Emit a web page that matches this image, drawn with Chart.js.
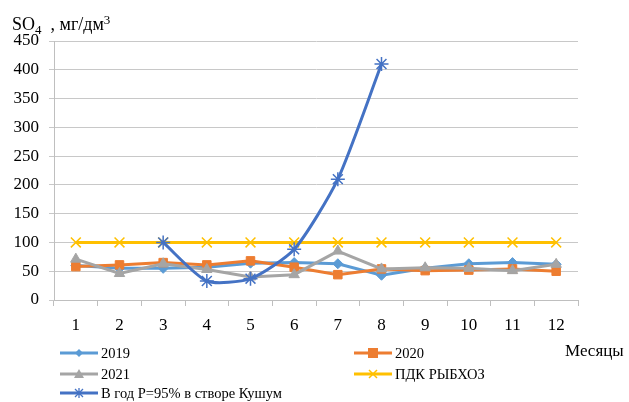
<!DOCTYPE html>
<html>
<head>
<meta charset="utf-8">
<script src="https://cdn.jsdelivr.net/npm/chart.js@4"></script>
<style>
  html, body { margin: 0; padding: 0; background: #fff; }
  #wrap { position: relative; width: 629px; height: 402px; font-family: "Liberation Serif", "Times New Roman", serif; color: #000; }
  canvas { position: absolute; left: 0; top: 0; }
  .txt { position: absolute; white-space: nowrap; }
  #ytitle { left: 12px; top: 10px; font-size: 18px; line-height: 20px; }
  #ytitle sub { font-size: 13px; vertical-align: -4px; }
  #ytitle sup { font-size: 13px; vertical-align: 6px; }
  #xtitle { left: 565px; top: 341px; font-size: 17px; }
  .leg { position: absolute; display: flex; align-items: center; font-size: 14.5px; height: 18px; }
  .leg svg { margin-right: 3px; }
</style>
</head>
<body>
<div id="wrap">
  <canvas id="c" width="629" height="402"></canvas>
  <div id="ytitle" class="txt">SO<sub>4</sub>&nbsp; , мг/дм<sup>3</sup></div>
  <div id="xtitle" class="txt">Месяцы</div>
  <div id="legend"></div>
</div>
<script>
// Months along the x axis
const months = ['1', '2', '3', '4', '5', '6', '7', '8', '9', '10', '11', '12'];

// Sulfate concentration, mg/dm3
const so4_2019 = [60, 55, 55, 57, 64, 65, 63, 43, 55, 63, 65, 62];
const so4_2020 = [58, 61, 65, 61, 68, 57, 44, 54, 51, 52, 54, 50];
const so4_2021 = [71, 46, 63, 53, 40, 44, 85, 54, 56, 55, 51, 62];
const pdkFish  = [100, 100, 100, 100, 100, 100, 100, 100, 100, 100, 100, 100];
const kushum95 = [null, null, 100, 33, 37, 88, 210, 410, null, null, null, null];

const yTicks = [0, 50, 100, 150, 200, 250, 300, 350, 400, 450];

const series = [
  { label: '2019', data: so4_2019, color: '#5B9BD5', style: 'rectRot', radius: 5, order: 4 },
  { label: '2020', data: so4_2020, color: '#ED7D31', style: 'rect', radius: 6, order: 3 },
  { label: '2021', data: so4_2021, color: '#A5A5A5', style: 'triangle', radius: 6, order: 2 },
  { label: 'ПДК РЫБХОЗ', data: pdkFish, color: '#FFC000', style: 'crossRot', radius: 7, order: 1 },
  { label: 'В год Р=95% в створе Кушум', data: kushum95, color: '#4472C4', style: 'star', radius: 7, order: 0, smooth: true }
];

const datasets = series.map(s => ({
  label: s.label,
  data: s.data,
  borderColor: s.color,
  backgroundColor: s.color,
  borderWidth: 3,
  pointStyle: s.style,
  pointRadius: s.radius,
  pointBorderWidth: (s.style === 'crossRot' || s.style === 'star') ? 1.5 : 1,
  pointBorderColor: s.color,
  pointBackgroundColor: s.color,
  tension: s.smooth ? 0.22 : 0,
  spanGaps: false,
  order: s.order
}));

const font = { family: '"Liberation Serif", "Times New Roman", serif', size: 17 };

new Chart(document.getElementById('c'), {
  type: 'line',
  data: { labels: months, datasets },
  options: {
    responsive: false,
    animation: false,
    layout: { padding: { top: 41, right: 51, bottom: 0, left: 0 } },
    plugins: { legend: { display: false }, tooltip: { enabled: false } },
    scales: {
      x: {
        offset: true,
        grid: { display: true, drawOnChartArea: false, drawTicks: true, tickLength: 6, color: '#BFBFBF', offset: true },
        border: { display: true, color: '#BFBFBF', width: 1 },
        ticks: { color: '#000', font, padding: 9, maxRotation: 0 },
        afterFit: s => { s.height = 102; }
      },
      y: {
        min: 0, max: 450,
        afterBuildTicks: s => { s.ticks = yTicks.map(v => ({ value: v })); },
        grid: { color: '#C8C8C8', lineWidth: 1, drawTicks: true, tickLength: 5 },
        border: { display: true, color: '#BFBFBF', width: 1 },
        ticks: { color: '#000', font, padding: 10 },
        afterFit: s => { s.width = 54; }
      }
    }
  }
});

// Legend, two columns
const legendPos = [
  { x: 60, y: 344 }, { x: 354, y: 344 },
  { x: 60, y: 365 }, { x: 354, y: 365 },
  { x: 60, y: 384 }
];
function markerSvg(s) {
  const c = s.color;
  let m = '';
  if (s.style === 'rectRot') m = `<polygon points="19,5 23,9 19,13 15,9" fill="${c}"/>`;
  else if (s.style === 'rect') m = `<rect x="14" y="4" width="10" height="10" fill="${c}"/>`;
  else if (s.style === 'triangle') m = `<polygon points="19,4 24,13 14,13" fill="${c}"/>`;
  else if (s.style === 'crossRot') m = `<path d="M15 5 L23 13 M23 5 L15 13" stroke="${c}" stroke-width="1.5"/>`;
  else if (s.style === 'star') m = `<path d="M15 5 L23 13 M23 5 L15 13 M19 4 L19 14" stroke="${c}" stroke-width="1.3"/>`;
  return `<svg width="38" height="18"><line x1="0" y1="9" x2="38" y2="9" stroke="${c}" stroke-width="3"/>${m}</svg>`;
}
const legend = document.getElementById('legend');
series.forEach((s, i) => {
  const d = document.createElement('div');
  d.className = 'leg';
  d.style.left = legendPos[i].x + 'px';
  d.style.top = legendPos[i].y + 'px';
  d.innerHTML = markerSvg(s) + '<span>' + s.label + '</span>';
  legend.appendChild(d);
});
</script>
</body>
</html>
